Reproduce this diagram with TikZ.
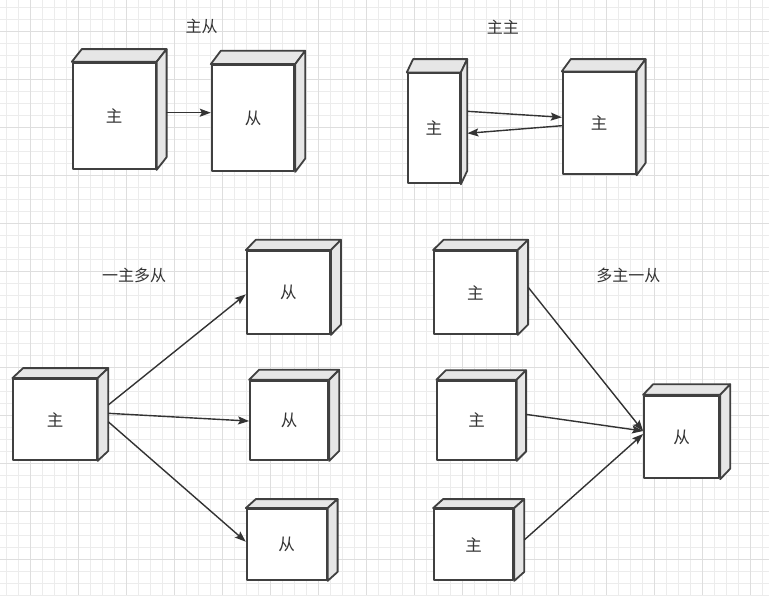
\documentclass[tikz,border=0pt]{standalone}
\usepackage{fontspec}
\newfontfamily\cjk{Noto Sans CJK SC}
\usetikzlibrary{arrows.meta}
\definecolor{gridminor}{RGB}{236,236,236}
\definecolor{gridmajor}{RGB}{222,222,222}
\definecolor{edge}{RGB}{64,64,64}
\definecolor{sidefill}{RGB}{230,230,230}
\definecolor{ink}{RGB}{51,51,51}
\newcommand\cubebox[8]{%
  \node[cubefront, minimum width={#4-#2}, minimum height={#5-#3}] (#1) at ({(#2+#4)/2},{(#3+#5)/2}) {#8};
  \draw[cubeface] (#1.north west) -- ++(#6,-#7) -- ([shift={(#6,-#7)}]#1.north east) -- (#1.north east) -- cycle;
  \draw[cubeface] (#1.north east) -- ++(#6,-#7) -- ([shift={(#6,-#7)}]#1.south east) -- (#1.south east) -- cycle;
}
\begin{document}
\begin{tikzpicture}[x=1pt,y=-1pt,
  cubefront/.style={draw=edge, line width=1.8pt, fill=white, inner sep=0pt, line join=round,
    font=\cjk\fontsize{16.5}{19}\selectfont, text=ink},
  cubeface/.style={draw=edge, line width=1.8pt, fill=sidefill, line join=round},
  conn/.style={draw=ink, line width=1.4pt, -{Stealth[length=11pt,width=8pt,inset=2pt]}},
  grouptitle/.style={inner sep=0pt, font=\cjk\fontsize{16}{19}\selectfont, text=ink}]
\useasboundingbox (0,0) rectangle (769,595);
\fill[white] (0,0) rectangle (769,595);
\foreach \x in {6.5,18.5,...,768} \draw[gridminor, line width=1pt] (\x,0) -- (\x,595);
\foreach \y in {7,19,...,595} \draw[gridminor, line width=1pt] (0,\y) -- (769,\y);
\foreach \x in {30.5,78.5,...,768} \draw[gridmajor, line width=1pt] (\x,0) -- (\x,595);
\foreach \y in {31,79,...,595} \draw[gridmajor, line width=1pt] (0,\y) -- (769,\y);

% titles
\node[grouptitle] (t1) at (201.7,26.7) {主从};
\node[grouptitle] (t2) at (502.8,26.7) {主主};
\node[grouptitle] (t3) at (134.2,275) {一主多从};
\node[grouptitle] (t4) at (628.3,275.7) {多主一从};

% group 1
\cubebox{m1}{72.7}{62.7}{155.7}{169}{10}{12.7}{主}
\cubebox{s1}{211.7}{65}{294.3}{171}{10}{13.3}{从}
\draw[conn] ([shift={(9.6,-3.15)}]m1.east) -- ([shift={(0,-5.3)}]s1.west);

% group 2
\cubebox{m2}{407.7}{73.3}{460}{183.3}{6.3}{13.3}{主}
\cubebox{m3}{562.7}{72.3}{635.7}{174.3}{9}{12.3}{主}
\draw[conn] ([shift={(6.5,-17)}]m2.east) -- ([shift={(0,-6)}]m3.west);
\draw[conn] ([shift={(0,2.4)}]m3.west) -- ([shift={(6.5,5)}]m2.east);

% group 3
\cubebox{m4}{13.3}{379}{96.7}{460}{10.7}{10}{主}
\cubebox{s2}{246.7}{251}{330}{334}{10}{10.3}{从}
\cubebox{s3}{250}{380.7}{328.3}{460}{10}{10}{从}
\cubebox{s4}{246.7}{509}{326.7}{580}{10}{9}{从}
\draw[conn] ([shift={(10.6,-14.5)}]m4.east) -- ([shift={(0,1.8)}]s2.west);
\draw[conn] ([shift={(10.6,-6.2)}]m4.east) -- ([shift={(0,0.7)}]s3.west);
\draw[conn] ([shift={(10.6,2.2)}]m4.east) -- ([shift={(0,-2.8)}]s4.west);

% group 4
\cubebox{m5}{434}{251}{516.7}{334}{10.5}{10.3}{主}
\cubebox{m6}{437.3}{380.7}{515.7}{460}{9.5}{9.5}{主}
\cubebox{m7}{434}{509}{513.3}{580}{10}{9}{主}
\cubebox{s5}{644}{395.7}{719.3}{478.3}{10}{10.5}{从}
\draw[conn] ([shift={(10.6,-5.2)}]m5.east) -- ([shift={(0,-6)}]s5.west);
\draw[conn] ([shift={(9.3,-6)}]m6.east) -- ([shift={(0,-6)}]s5.west);
\draw[conn] ([shift={(10,-4.5)}]m7.east) -- ([shift={(0,-3)}]s5.west);
\end{tikzpicture}
\end{document}
